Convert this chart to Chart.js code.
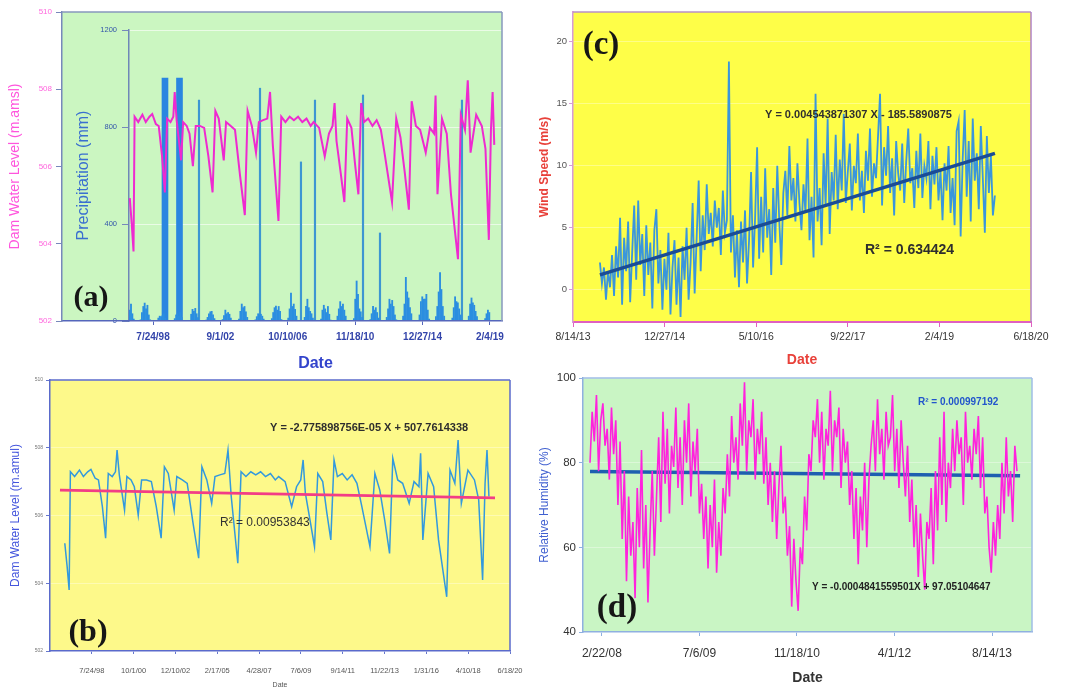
<!DOCTYPE html>
<html>
<head>
<meta charset="utf-8">
<script src="https://cdn.jsdelivr.net/npm/chart.js@4.4.1/dist/chart.umd.min.js"></script>
<style>
  body { margin: 0; background: #fff; }
  #page { position: relative; width: 1065px; height: 689px; overflow: hidden; }
  canvas { position: absolute; left: 0; top: 0; }
</style>
</head>
<body>
<div id="page">
  <canvas id="precip" width="1065" height="689"></canvas>
  <canvas id="levelA" width="1065" height="689"></canvas>
  <canvas id="levelB" width="1065" height="689"></canvas>
  <canvas id="wind" width="1065" height="689"></canvas>
  <canvas id="humid" width="1065" height="689"></canvas>
</div>
<script>
// dates are Excel serial day numbers

// dam water level (m.amsl), used by (a) and (b)
const levelDates = [35483, 35528, 35566, 35590, 35671, 35764, 35839, 35921, 35983, 36064,
  36127, 36202, 36264, 36315, 36390, 36452, 36483, 36526, 36626, 36671,
  36751, 36813, 36888, 36952, 37045, 37139, 37233, 37326, 37388, 37463,
  37575, 37626, 37731, 37825, 37937, 38044, 38106, 38200, 38293, 38356,
  38450, 38544, 38605, 38667, 38793, 38855, 38948, 39042, 39136, 39229,
  39323, 39417, 39510, 39574, 39698, 39823, 39917, 39997, 40042, 40085,
  40185, 40260, 40323, 40417, 40497, 40572, 40634, 40698, 40791, 40885,
  40979, 41072, 41166, 41321, 41415, 41509, 41602, 41696, 41758, 41852,
  41946, 42071, 42164, 42258, 42290, 42333, 42433, 42539, 42633, 42789,
  42852, 42945, 43007, 43069, 43195, 43320, 43401, 43476, 43523, 43560, 43597]
const levelValues = [505.18, 504.49, 503.80, 507.29, 507.15, 507.34, 507.15, 507.29, 507.36, 507.10,
  507.05, 506.26, 505.33, 507.24, 507.15, 507.29, 507.93, 507.20, 506.16, 507.15,
  507.05, 506.85, 506.01, 507.05, 507.05, 507.00, 506.26, 505.33, 507.44, 507.24,
  506.16, 507.15, 507.05, 506.95, 505.77, 504.74, 507.44, 507.05, 506.36, 507.15,
  507.20, 507.24, 507.93, 506.56, 504.59, 507.29, 507.15, 507.29, 507.20, 507.29,
  507.15, 507.24, 507.05, 507.15, 507.00, 506.26, 506.85, 507.05, 507.64, 506.66,
  505.77, 505.08, 507.24, 507.00, 506.07, 505.28, 507.64, 507.15, 507.24, 507.05,
  507.20, 506.95, 506.26, 505.08, 507.24, 506.75, 505.87, 504.88, 507.69, 507.05,
  506.95, 506.36, 507.00, 506.85, 507.84, 505.28, 507.24, 506.85, 505.28, 503.60,
  507.34, 506.95, 508.23, 506.36, 507.34, 507.05, 506.46, 504.10, 506.95, 507.93, 506.56]

// (b) linear trend as drawn
const levelTrendX = [35391, 43713]
const levelTrendY = [506.75, 506.52]

// precipitation (mm), one reading a month from Feb 1997 (rows run Feb..Jan)
const precipStart = 35480
const precipStep = 30.44
const precipValues = [
  45, 70, 30, 8, 0, 0, 0, 0, 5, 35, 60, 74,
  50, 65, 25, 5, 0, 0, 0, 0, 3, 12, 20, 18,
  22, 30, 12, 0, 0, 0, 0, 0, 0, 10, 25, 30,
  20, 35, 15, 3, 0, 0, 0, 0, 2, 28, 48, 40,
  52, 30, 14, 0, 0, 0, 0, 0, 4, 15, 30, 38,
  40, 25, 10, 0, 0, 0, 0, 0, 6, 22, 45, 30,
  35, 28, 12, 2, 0, 0, 0, 0, 8, 40, 70, 55,
  60, 38, 15, 0, 0, 0, 0, 0, 5, 18, 30, 25,
  28, 20, 8, 0, 0, 0, 0, 0, 10, 35, 55, 62,
  45, 60, 40, 6, 0, 0, 0, 0, 12, 50, 115, 60,
  70, 48, 20, 0, 0, 0, 0, 0, 15, 60, 90, 55,
  40, 30, 12, 0, 0, 0, 0, 0, 8, 45, 65, 50,
  35, 60, 28, 4, 0, 0, 0, 0, 20, 50, 80, 60,
  70, 45, 20, 0, 0, 0, 0, 0, 10, 90, 165, 110,
  50, 38, 15, 0, 0, 0, 0, 0, 6, 30, 60, 45,
  55, 35, 12, 0, 0, 0, 0, 0, 15, 50, 90, 70,
  85, 60, 25, 5, 0, 0, 0, 0, 20, 70, 180, 120,
  95, 55, 30, 0, 0, 0, 0, 0, 25, 80, 100, 90,
  90, 110, 45, 8, 0, 0, 0, 0, 18, 60, 120, 200,
  130, 60, 20, 0, 0, 0, 0, 0, 12, 55, 100, 80,
  75, 50, 25, 0, 0, 0, 0, 0, 20, 70, 95, 75,
  65, 40, 18, 0, 0, 0, 0, 0, 10, 30, 45, 35]
const stormDates = [37024, 38382, 39294, 39606, 40675, 41053, 42878]
const stormValues = [911, 960, 656, 911, 932, 363, 911]
const bigRainDates = [36267, 36590]
const bigRainValues = [1002, 1002]

// (c) wind speed (m/s), one reading every 11 days
const windStart = 41647
const windStep = 11
const windSpeed = [
  2.2, 0.5, 1.8, -0.8, 1.5, 0.2, 2.8, -0.5, 3.5, 1.0,
  5.8, -1.2, 4.2, 1.5, 5.5, -1.0, 3.0, 6.8, 0.8, 7.2,
  2.0, 4.5, -0.5, 5.2, 1.2, 3.8, -1.5, 4.8, 6.5, 0.5,
  3.2, -1.6, 2.5, 0.0, 4.6, -2.0, 1.8, 4.0, -1.2, 2.6,
  -2.2, 3.5, 0.8, 5.0, -0.8, 2.2, 7.0, -0.3, 4.2, 8.8,
  1.5, 6.0, 3.2, 8.5, 4.5, 6.2, 3.5, 7.2, 5.0, 6.6,
  2.8, 8.0, 4.6, 5.6, 18.4, 3.0, 6.0, 1.0, 4.8, 0.2,
  5.5, 2.2, 6.4, 0.5, 4.0, 9.5, 1.8, 5.8, 11.5, 2.5,
  7.5, 3.0, 9.8, 4.2, 6.5, 1.2, 8.2, 3.8, 10.0, 5.5,
  2.0, 7.8, 9.6, 6.0, 11.6, 7.2, 9.0, 5.5, 10.2, 7.0,
  4.8, 8.5, 6.2, 12.2, 4.0, 7.5, 2.6, 15.8, 5.5, 8.2,
  3.6, 11.0, 6.8, 13.8, 4.5, 9.5, 7.2, 12.5, 6.5, 10.5,
  8.0, 14.2, 7.0, 9.5, 11.8, 6.4, 10.0, 8.6, 12.6, 7.2,
  9.6, 6.2, 11.2, 8.8, 13.0, 7.5, 10.2, 9.0, 12.4, 15.8,
  6.8, 11.5, 9.2, 13.2, 7.8, 10.6, 6.0, 12.0, 9.4, 8.0,
  11.8, 7.0, 10.4, 13.0, 8.6, 9.8, 6.6, 11.2, 8.2, 12.6,
  7.4, 10.0, 9.0, 12.0, 6.5, 10.8, 8.5, 11.5, 7.2, 9.6,
  5.6, 10.2, 8.0, 11.6, 6.2, 9.0, 5.2, 12.8, 13.6, 4.3,
  10.5, 14.5, 7.5, 12.0, 5.5, 13.8, 8.8, 11.0, 6.5, 13.2,
  9.0, 4.6, 12.4, 7.8, 10.8, 6.0, 7.6]
const windTrendX = [41647, 43803]
const windTrendY = [1.2, 11.0]

// (d) relative humidity (%), one reading every 11 days
const humidStart = 39439
const humidStep = 11
const humidity = [
  80, 92, 85, 96, 78, 90, 94, 84, 88, 76,
  93, 82, 90, 70, 85, 62, 78, 52, 72, 58,
  66, 48, 74, 60, 83, 55, 70, 47, 64, 78,
  58, 72, 86, 66, 92, 75, 88, 68, 84, 79,
  93, 74, 86, 70, 90, 80, 94, 72, 85, 78,
  88, 68, 75, 62, 72, 55, 70, 60, 76, 54,
  66, 58, 74, 68, 82, 72, 91, 80, 86, 76,
  94, 84, 99, 78, 90, 86, 95, 76, 88, 82,
  92, 75, 86, 70, 80, 66, 78, 62, 74, 84,
  68, 72, 58, 65, 46, 62, 52, 45, 60, 56,
  72, 64, 82, 78, 90, 86, 95, 80, 92, 76,
  88, 84, 97, 78, 90, 86, 93, 74, 88, 80,
  85, 70, 78, 62, 74, 56, 72, 64, 80, 60,
  76, 84, 90, 78, 95, 82, 88, 76, 92, 84,
  86, 96, 78, 88, 74, 90, 80, 72, 84, 66,
  76, 60, 70, 53, 68, 58, 50, 66, 62, 74,
  56, 78, 64, 86, 70, 92, 66, 80, 74, 88,
  78, 90, 82, 86, 70, 92, 80, 84, 76, 88,
  82, 91, 74, 86, 68, 72, 60, 54, 66, 58,
  70, 62, 80, 68, 86, 72, 78, 66, 84, 78]
const humidTrendX = [39439, 41644]
const humidTrendY = [77.9, 76.9]

// date ticks of each panel
const ticksA = [36000, 37500, 39000, 40500, 42000, 43500]
const ticksB = [36000, 36800, 37600, 38400, 39200, 40000, 40800, 41600, 42400, 43200, 44000]
const ticksC = [41500, 42000, 42500, 43000, 43500, 44000]
const ticksD = [39500, 40000, 40500, 41000, 41500]

const PAGE_W = 1065
const PAGE_H = 689

Chart.defaults.font.family = "'Liberation Sans', Arial, sans-serif"
Chart.defaults.color = '#444'

function dateLabel (serial) {
  const d = new Date(Date.UTC(1899, 11, 30) + Math.round(serial) * 86400000)
  return (d.getUTCMonth() + 1) + '/' + d.getUTCDate() + '/' + String(d.getUTCFullYear()).slice(2)
}

function pts (xs, ys) {
  return xs.map((x, i) => ({ x: x, y: ys[i] }))
}

function series (start, step, ys) {
  return ys.map((y, i) => ({ x: start + i * step, y: y }))
}

// chart area [left, top, right, bottom] in page pixels
function pad (area, yW, xH) {
  return { left: area[0] - yW, top: area[1], right: PAGE_W - area[2], bottom: PAGE_H - area[3] - xH }
}

function fixSize (size) {
  return function (scale) {
    if (scale.isHorizontal()) scale.height = size
    else scale.width = size
    scale.paddingLeft = 0
    scale.paddingRight = 0
    scale.paddingTop = 0
    scale.paddingBottom = 0
  }
}

function setTicks (list) {
  return function (scale) {
    scale.ticks = list.map(v => ({ value: v }))
  }
}

const background = {
  id: 'background',
  beforeDraw: (chart, args, options) => {
    const { ctx, chartArea } = chart
    const r = options.rect || [chartArea.left, chartArea.top, chartArea.right, chartArea.bottom]
    ctx.save()
    ctx.fillStyle = options.color
    ctx.fillRect(r[0], r[1], r[2] - r[0], r[3] - r[1])
    ctx.restore()
  }
}

const frame = {
  id: 'frame',
  afterDraw: (chart, args, options) => {
    const { ctx, chartArea } = chart
    const a = chartArea
    const sides = options.sides || {}
    ctx.save()
    ctx.lineWidth = options.width || 1.5
    const line = (col, x1, y1, x2, y2) => {
      if (!col) return
      ctx.strokeStyle = col
      ctx.beginPath()
      ctx.moveTo(x1, y1)
      ctx.lineTo(x2, y2)
      ctx.stroke()
    }
    line(sides.top, a.left, a.top, a.right, a.top)
    line(sides.right, a.right, a.top, a.right, a.bottom)
    line(sides.left, a.left, a.top, a.left, a.bottom)
    line(sides.bottom, a.left, a.bottom, a.right, a.bottom)
    ctx.restore()
  }
}

const notes = {
  id: 'notes',
  afterDraw: (chart, args, options) => {
    const { ctx } = chart
    for (const n of options.items || []) {
      ctx.save()
      ctx.font = n.font
      ctx.fillStyle = n.color
      ctx.textAlign = n.align || 'left'
      ctx.textBaseline = 'middle'
      ctx.translate(n.x, n.y)
      if (n.w) ctx.fillText(n.text, 0, 0, n.w)
      else ctx.fillText(n.text, 0, 0)
      ctx.restore()
    }
  }
}

const base = {
  responsive: false,
  animation: false,
  devicePixelRatio: 1,
  elements: { point: { radius: 0 }, line: { tension: 0 } }
}

const serif = s => "bold " + s + "px 'Liberation Serif', 'Times New Roman', serif"
const bold = s => "bold " + s + "px 'Liberation Sans', Arial, sans-serif"
const plain = s => s + "px 'Liberation Sans', Arial, sans-serif"

// ---------- (a) precipitation, drawn underneath ----------
const areaA = [62, 12, 502, 321]
const areaP = [129, 30, 502, 321]

new Chart('precip', {
  type: 'line',
  data: {
    datasets: [
      { type: 'bar', data: series(precipStart, precipStep, precipValues), backgroundColor: '#2b8ee0', barThickness: 1.2, grouped: false },
      { type: 'bar', data: pts(stormDates, stormValues), backgroundColor: '#3d96d2', barThickness: 1.5, grouped: false },
      { type: 'bar', data: pts(bigRainDates, bigRainValues), backgroundColor: '#2a86e0', barThickness: 6, grouped: false }
    ]
  },
  options: {
    ...base,
    layout: { padding: pad(areaP, 60, 56.6) },
    scales: {
      x: {
        type: 'linear', min: 35466, max: 43769, offset: false,
        ticks: { display: false },
        grid: { display: false },
        border: { display: false },
        title: { display: true, text: 'Date', color: '#3344cc', font: { size: 16, weight: 'bold' }, padding: { top: 0, bottom: 4 } },
        afterFit: fixSize(56.6)
      },
      y: {
        min: 0, max: 1200,
        ticks: { stepSize: 400, callback: v => String(v), color: '#3355aa', font: { size: 7.5 }, padding: 5 },
        grid: { color: 'rgba(255,255,255,0.6)', tickLength: 7, tickColor: '#7788bb' },
        border: { color: '#6f87b8', width: 1.5 },
        title: { display: true, text: 'Precipitation (mm)', color: '#3a6fd0', font: { size: 16 }, padding: { top: 5.4, bottom: 0 } },
        afterFit: fixSize(60)
      }
    },
    plugins: {
      legend: { display: false },
      tooltip: { enabled: false },
      background: { color: '#cbf6c1', rect: areaA }
    }
  },
  plugins: [background]
})

// ---------- (a) water level on top ----------
new Chart('levelA', {
  type: 'line',
  data: {
    datasets: [{ data: pts(levelDates, levelValues), borderColor: '#ee2ad0', borderWidth: 2 }]
  },
  options: {
    ...base,
    layout: { padding: pad(areaA, 62, 30) },
    scales: {
      x: {
        type: 'linear', min: 33974, max: 43769,
        afterBuildTicks: setTicks(ticksA),
        ticks: { callback: v => dateLabel(v), color: '#3344aa', font: { size: 10, weight: 'bold' }, padding: 6, maxRotation: 0, autoSkip: false },
        grid: { drawOnChartArea: false, tickLength: 4, tickColor: '#5566bb' },
        border: { color: '#5566bb', width: 1.5 },
        afterFit: fixSize(30)
      },
      y: {
        min: 502, max: 510,
        ticks: { stepSize: 2, color: '#ff66dd', font: { size: 8 }, padding: 4 },
        grid: { drawOnChartArea: false, tickLength: 6, tickColor: '#7788bb' },
        border: { color: '#7788bb', width: 1.5 },
        title: { display: true, text: 'Dam Water Level (m.amsl)', color: '#ff55dd', font: { size: 14 }, padding: { top: 6.6, bottom: 0 } },
        afterFit: fixSize(62)
      }
    },
    plugins: {
      legend: { display: false },
      tooltip: { enabled: false },
      frame: { sides: { top: '#8797bd', right: '#8797bd' } },
      notes: { items: [{ text: '(a)', x: 91, y: 298, font: serif(30), color: '#161616', align: 'center' }] }
    }
  },
  plugins: [frame, notes]
})

// ---------- (b) water level with trend ----------
const areaB = [50, 380, 510, 651]
new Chart('levelB', {
  type: 'line',
  data: {
    datasets: [
      { data: pts(levelTrendX, levelTrendY), borderColor: '#f23d86', borderWidth: 2.6 },
      { data: pts(levelDates, levelValues), borderColor: '#3399dd', borderWidth: 1.5 }
    ]
  },
  options: {
    ...base,
    layout: { padding: pad(areaB, 50, 38) },
    scales: {
      x: {
        type: 'linear', min: 35200, max: 44000,
        afterBuildTicks: setTicks(ticksB),
        ticks: { callback: v => dateLabel(v), color: '#555', font: { size: 7.5 }, padding: 12, maxRotation: 0, autoSkip: false },
        grid: { drawOnChartArea: false, tickLength: 3, tickColor: '#6677cc' },
        border: { color: '#5a6acb', width: 1.5 },
        title: { display: true, text: 'Date', color: '#555', font: { size: 7 }, padding: { top: 0, bottom: 0 } },
        afterFit: fixSize(38)
      },
      y: {
        min: 502, max: 510,
        ticks: { stepSize: 2, color: '#777', font: { size: 5 }, padding: 3 },
        grid: { color: 'rgba(255,255,255,0.35)', tickLength: 4, tickColor: '#6677cc' },
        border: { color: '#5a6acb', width: 1.5 },
        title: { display: true, text: 'Dam Water Level (m.amul)', color: '#4455dd', font: { size: 12 }, padding: { top: 8.8, bottom: 0 } },
        afterFit: fixSize(50)
      }
    },
    plugins: {
      legend: { display: false },
      tooltip: { enabled: false },
      background: { color: '#fdf98a' },
      frame: { sides: { top: '#5a6acb', right: '#5a6acb' } },
      notes: {
        items: [
          { text: 'Y = -2.775898756E-05 X + 507.7614338', x: 270, y: 428, w: 204, font: bold(11), color: '#2e2e2e' },
          { text: 'R² = 0.00953843', x: 220, y: 523, w: 92, font: plain(12), color: '#333' },
          { text: '(b)', x: 88, y: 633, font: serif(32), color: '#161616', align: 'center' }
        ]
      }
    }
  },
  plugins: [background, frame, notes]
})

// ---------- (c) wind speed ----------
const areaC = [573, 12, 1031, 322]
new Chart('wind', {
  type: 'line',
  data: {
    datasets: [
      { data: pts(windTrendX, windTrendY), borderColor: '#1a4c96', borderWidth: 3.5 },
      { data: series(windStart, windStep, windSpeed), borderColor: '#3a96dc', borderWidth: 1.8 }
    ]
  },
  options: {
    ...base,
    layout: { padding: pad(areaC, 40, 46.4) },
    scales: {
      x: {
        type: 'linear', min: 41500, max: 44000,
        afterBuildTicks: setTicks(ticksC),
        ticks: { callback: v => dateLabel(v), color: '#333', font: { size: 10.5 }, padding: 4, maxRotation: 0, autoSkip: false },
        grid: { drawOnChartArea: false, tickLength: 5, tickColor: '#e060c0' },
        border: { color: '#e060c0', width: 2 },
        title: { display: true, text: 'Date', color: '#e8413a', font: { size: 14, weight: 'bold' }, padding: { top: 0, bottom: 0 } },
        afterFit: fixSize(46.4)
      },
      y: {
        min: -2.6, max: 22.4,
        afterBuildTicks: setTicks([0, 5, 10, 15, 20]),
        ticks: { color: '#555', font: { size: 9.5 }, padding: 2 },
        grid: { color: 'rgba(255,255,255,0.35)', tickLength: 4, tickColor: '#d79ad7' },
        border: { color: '#d79ad7', width: 1.5 },
        title: { display: true, text: 'Wind Speed (m/s)', color: '#e8413a', font: { size: 12, weight: 'bold' }, padding: { top: 4.8, bottom: 0 } },
        afterFit: fixSize(40)
      }
    },
    plugins: {
      legend: { display: false },
      tooltip: { enabled: false },
      background: { color: '#fefe48' },
      frame: { sides: { top: '#b98fc8', right: '#b080c8' } },
      notes: {
        items: [
          { text: 'Y = 0.004543871307 X - 185.5890875', x: 765, y: 115, w: 198, font: bold(11), color: '#2e2e2e' },
          { text: 'R² = 0.634424', x: 865, y: 250, w: 92, font: bold(14), color: '#2e2e2e' },
          { text: '(c)', x: 601, y: 45, font: serif(33), color: '#161616', align: 'center' }
        ]
      }
    }
  },
  plugins: [background, frame, notes]
})

// ---------- (d) relative humidity ----------
const areaD = [583, 378, 1032, 632]
new Chart('humid', {
  type: 'line',
  data: {
    datasets: [
      { data: series(humidStart, humidStep, humidity), borderColor: '#ff22dd', borderWidth: 1.6 },
      { data: pts(humidTrendX, humidTrendY), borderColor: '#1e5fb0', borderWidth: 3.5 }
    ]
  },
  options: {
    ...base,
    layout: { padding: pad(areaD, 50, 54.4) },
    scales: {
      x: {
        type: 'linear', min: 39403, max: 41705,
        afterBuildTicks: setTicks(ticksD),
        ticks: { callback: v => dateLabel(v), color: '#333', font: { size: 12 }, padding: 10, maxRotation: 0, autoSkip: false },
        grid: { drawOnChartArea: false, tickLength: 4, tickColor: '#8fb0e0' },
        border: { color: '#8fb0e0', width: 1.5 },
        title: { display: true, text: 'Date', color: '#333', font: { size: 14, weight: 'bold' }, padding: { top: 0, bottom: 0 } },
        afterFit: fixSize(54.4)
      },
      y: {
        min: 40, max: 100,
        ticks: { stepSize: 20, color: '#333', font: { size: 11.5 }, padding: 3 },
        grid: { color: 'rgba(255,255,255,0.35)', tickLength: 4, tickColor: '#8fb0e0' },
        border: { color: '#8fb0e0', width: 1.5 },
        title: { display: true, text: 'Relative Humidity (%)', color: '#4060d0', font: { size: 12 }, padding: { top: 4.8, bottom: 0 } },
        afterFit: fixSize(50)
      }
    },
    plugins: {
      legend: { display: false },
      tooltip: { enabled: false },
      background: { color: '#c9f5c4' },
      frame: { sides: { top: '#9fbde6', right: '#9fbde6' } },
      notes: {
        items: [
          { text: 'R² = 0.000997192', x: 918, y: 402, w: 84, font: bold(10), color: '#2255cc' },
          { text: 'Y = -0.0004841559501X + 97.05104647', x: 812, y: 587, w: 188, font: bold(10), color: '#222' },
          { text: '(d)', x: 617, y: 608, font: serif(33), color: '#161616', align: 'center' }
        ]
      }
    }
  },
  plugins: [background, frame, notes]
})
</script>
</body>
</html>
